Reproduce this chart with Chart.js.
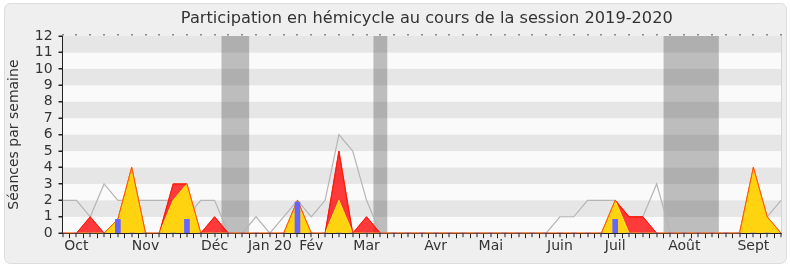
<!DOCTYPE html>
<html><head><meta charset="utf-8">
<script src="https://cdn.jsdelivr.net/npm/chart.js@4.4.1/dist/chart.umd.min.js"></script>
<style>html,body{margin:0;padding:0;background:#fff}#wrap{width:790px;height:267px;position:relative}</style>
</head><body><div id="wrap"><canvas id="c"></canvas></div>
<script>
// Week axis labels (one entry per week, month name at the week where the month starts)
const weekLabels = ['', 'Oct', '', '', '', '', 'Nov', '', '', '', '', 'Déc', '', '', '', 'Jan 20', '', '', 'Fév', '', '', '', 'Mar', '', '', '', '', 'Avr', '', '', '', 'Mai', '', '', '', '', 'Juin', '', '', '', 'Juil', '', '', '', '', 'Août', '', '', '', '', 'Sept', '', ''];
// Grey line: median participation
const median = [2,2,1,3,2,2,2,2,2,1, 2,2,0,0,1,0,1,2,1,2, 6,5,2,0,0,0,0,0,0,0, 0,0,0,0,0,0,1,1,2,2, 2,1,1,3,0,0,0,0,0,0, 2,1,2];
// Red area: presences
const presences = [0,0,1,0,0.85,4,0,0,3,3, 0,1,0,0,0,0,0,2,0,0, 5,0,1,0,0,0,0,0,0,0, 0,0,0,0,0,0,0,0,0,0, 2,1,1,0,0,0,0,0,0,0, 4,1,0];
// Yellow area: interventions
const interventions = [0,0,0,0,0.85,4,0,0,2,3, 0,0,0,0,0,0,0,2,0,0, 2,0,0,0,0,0,0,0,0,0, 0,0,0,0,0,0,0,0,0,0, 2,0,0,0,0,0,0,0,0,0, 4,1,0];
// Blue bars: questions
const questions = [0,0,0,0,0.85,0,0,0,0,0.85, 0,0,0,0,0,0,0,1.9,0,0, 0,0,0,0,0,0,0,0,0,0, 0,0,0,0,0,0,0,0,0,0, 0.85,0,0,0,0,0,0,0,0,0, 0,0,0];
// Holidays (week index ranges)
const holidays = [[11.5,13.5],[22.5,23.5],[43.5,47.5]];
const yTicks = [0,1,2,3,4,5,6,7,8,9,10,11,12];
const titleText = 'Participation en hémicycle au cours de la session 2019-2020';

const FONT = "'DejaVu Sans', sans-serif";
const TXT = '#333';

const deco = {
  id: 'deco',
  beforeDraw(chart) {
    const {ctx, chartArea: a, scales: {y}} = chart;
    ctx.save();
    ctx.fillStyle = '#ffffff';
    ctx.fillRect(0, 0, chart.width, chart.height);
    // frame
    const fx = 4.5, fy = 3.5, fw = 782, fh = 260, r = 6;
    ctx.beginPath();
    ctx.moveTo(fx + r, fy);
    ctx.arcTo(fx + fw, fy, fx + fw, fy + fh, r);
    ctx.arcTo(fx + fw, fy + fh, fx, fy + fh, r);
    ctx.arcTo(fx, fy + fh, fx, fy, r);
    ctx.arcTo(fx, fy, fx + fw, fy, r);
    ctx.closePath();
    ctx.fillStyle = '#efefef';
    ctx.fill();
    ctx.strokeStyle = '#dddddd';
    ctx.lineWidth = 1;
    ctx.stroke();
    // horizontal bands
    for (let k = 0; k < yTicks.length - 1; k++) {
      const y0 = y.getPixelForValue(yTicks[k]);
      const y1 = y.getPixelForValue(yTicks[k + 1]);
      ctx.fillStyle = (k % 2 === 1) ? '#e6e6e6' : '#fafafa';
      ctx.fillRect(a.left, y1, a.right - a.left, y0 - y1);
    }
    // title
    ctx.fillStyle = TXT;
    ctx.font = "16.2px " + FONT;
    ctx.textAlign = 'center';
    ctx.textBaseline = 'middle';
    ctx.fillText(titleText, (a.left + a.right) / 2 + 5, 19);
    ctx.restore();
  },
  beforeDatasetsDraw(chart) {
    const {ctx, chartArea: a, scales: {x}} = chart;
    ctx.save();
    ctx.fillStyle = 'rgba(50,50,50,0.3)';
    holidays.forEach(([s, e]) => {
      const x0 = x.getPixelForValue(s), x1 = x.getPixelForValue(e);
      ctx.fillRect(x0, a.top, x1 - x0, a.bottom - a.top);
    });
    ctx.restore();
  },
  afterDraw(chart) {
    const {ctx, chartArea: a, scales: {x, y}} = chart;
    ctx.save();
    ctx.fillStyle = '#222';
    for (let i = 0; i < weekLabels.length; i++) {
      const px = Math.round(x.getPixelForValue(i));
      ctx.fillRect(px - 0.5, a.top - 2, 1, 1.5);
      ctx.fillRect(px - 0.5, a.bottom, 1, 4);
    }
    yTicks.forEach(v => {
      const py = Math.round(y.getPixelForValue(v));
      ctx.fillRect(a.left - 4, py - 0.5, 4, 1);
    });
    ctx.strokeStyle = '#d6d6d6';
    ctx.beginPath();
    ctx.moveTo(a.right + 0.5, a.top);
    ctx.lineTo(a.right + 0.5, a.bottom);
    ctx.stroke();
    ctx.restore();
  }
};

new Chart(document.getElementById('c'), {
  data: {
    labels: weekLabels,
    datasets: [
      { type: 'bar', data: questions, backgroundColor: '#6666ff', barThickness: 5, order: 1 },
      { type: 'line', data: presences, borderColor: 'rgba(255,30,0,0.75)', borderWidth: 1, fill: false, pointRadius: 0, tension: 0, order: 2 },
      { type: 'line', data: interventions, backgroundColor: '#ffd30f', borderColor: '#ffe81a', borderWidth: 1, fill: 'origin', pointRadius: 0, tension: 0, order: 3 },
      { type: 'line', data: presences, backgroundColor: 'rgba(255,0,0,0.77)', borderColor: 'rgba(255,0,0,0.9)', borderWidth: 1, fill: 'origin', pointRadius: 0, tension: 0, order: 4 },
      { type: 'line', data: median, borderColor: '#b5b5b5', borderWidth: 1.2, fill: false, pointRadius: 0, tension: 0, order: 5 }
    ]
  },
  options: {
    responsive: true,
    maintainAspectRatio: false,
    animation: false,
    events: [],
    layout: { padding: { left: 6, right: 9, top: 36, bottom: 12 } },
    plugins: {
      legend: { display: false },
      tooltip: { enabled: false },
      title: { display: false }
    },
    scales: {
      x: {
        type: 'category', offset: false,
        grid: { display: true, drawOnChartArea: false, drawTicks: true, tickLength: 5, color: '#222', tickColor: '#222', tickWidth: 1 },
        border: { display: true, color: '#222', width: 1 },
        ticks: { autoSkip: false, maxRotation: 0, minRotation: 0, color: TXT, padding: 0, font: { family: FONT, size: 14 } }
      },
      y: {
        min: 0, max: 12,
        afterBuildTicks(s) { s.ticks = yTicks.map(v => ({ value: v })); },
        grid: { display: true, drawOnChartArea: false, drawTicks: true, tickLength: 4, color: '#222', tickColor: '#222', tickWidth: 1 },
        border: { display: true, color: '#222', width: 1 },
        ticks: { autoSkip: false, color: TXT, padding: 6, font: { family: FONT, size: 14 } },
        title: { display: true, text: 'Séances par semaine', color: TXT, font: { family: FONT, size: 14 }, padding: { top: 0, bottom: 6 } }
      }
    }
  },
  plugins: [deco]
});
</script></body></html>
